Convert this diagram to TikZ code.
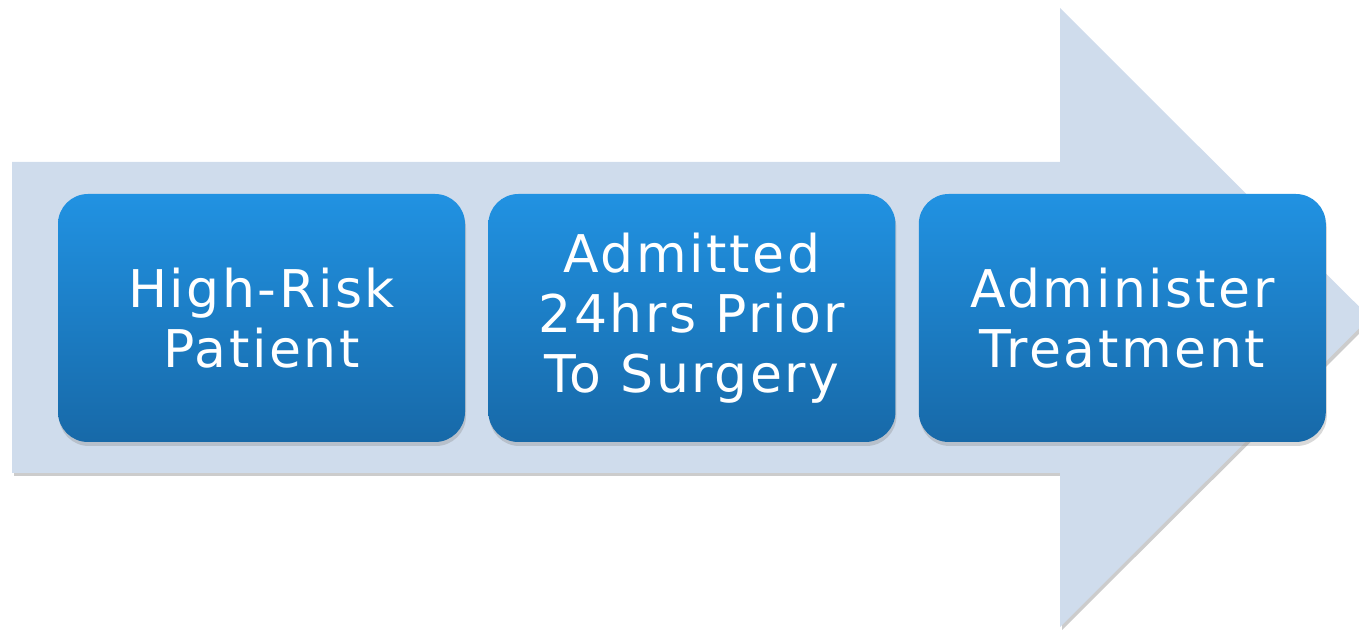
\documentclass[tikz,border=0pt]{standalone}
\usepackage{fontspec}
\setmainfont{DejaVu Sans}
\newfontfamily\stepfont[LetterSpace=5]{DejaVu Sans}
\usepackage{tikz}
\usetikzlibrary{positioning, shadows}

\definecolor{arrowfill}{RGB}{207,220,236}
\definecolor{boxtop}{RGB}{33,146,226}
\definecolor{boxbottom}{RGB}{23,105,168}

\tikzset{
    phase/.style={rounded corners=30pt, minimum width=407pt, minimum height=248pt,
        inner sep=0pt, align=center, text=white, top color=boxtop, bottom color=boxbottom,
        font=\stepfont\fontsize{52}{60}\selectfont,
        drop shadow={shadow xshift=1pt, shadow yshift=-4pt, opacity=0.3}},
}

\begin{document}
\begin{tikzpicture}[x=1pt, y=1pt]
    \useasboundingbox (0,0) rectangle (1359,631);
    % Big background arrow
    \begin{scope}
        \clip (0,0) rectangle (1359,631);
        \fill[black, opacity=0.2] (14,155) -- (14,466) -- (1062,466) -- (1062,620)
            -- (1372,310) -- (1062,1) -- (1062,155) -- cycle;
        \fill[arrowfill] (12,158) -- (12,469) -- (1060,469) -- (1060,623)
            -- (1370,313.5) -- (1060,4) -- (1060,158) -- cycle;
    \end{scope}

    % Steps
    \node[phase] (patient) at (261.5,313) {High-Risk\\Patient};
    \node[phase, right=23pt of patient] (admitted) {Admitted\\24hrs Prior\\To Surgery};
    \node[phase, right=23pt of admitted] (treatment) {Administer\\Treatment};
\end{tikzpicture}
\end{document}
